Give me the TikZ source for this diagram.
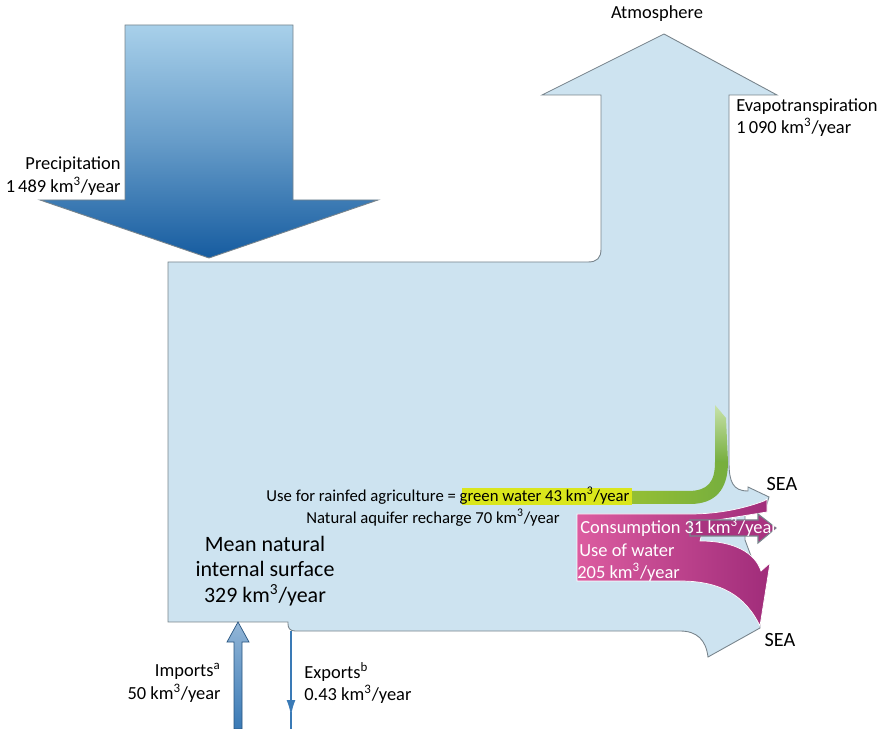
\documentclass[tikz,border=0pt]{standalone}
\usepackage{fontspec}
\setmainfont{Carlito}
\usetikzlibrary{arrows.meta}
\definecolor{bodyblue}{RGB}{205,227,240}
\definecolor{edgegrey}{RGB}{120,132,140}
\definecolor{rainlight}{RGB}{168,208,234}
\definecolor{raindark}{RGB}{22,92,160}
\definecolor{pinklight}{RGB}{220,92,160}
\definecolor{pinkdark}{RGB}{160,44,122}
\definecolor{leafgreen}{RGB}{118,174,62}
\definecolor{leaflight}{RGB}{200,226,170}
\definecolor{marker}{RGB}{218,230,28}
\definecolor{steel}{RGB}{58,122,182}
\newcommand{\kmyr}{km\textsuperscript{3}/year}
\begin{document}
\begin{tikzpicture}[x=0.02cm,y=-0.02cm,
    body/.style={fill=bodyblue, draw=edgegrey, line width=0.5pt},
    lbl/.style={font=\fontsize{10.5}{13}\selectfont, inner sep=0pt},
    sml/.style={font=\fontsize{9.5}{12}\selectfont, inner sep=0pt}]
    \useasboundingbox (0,0) rectangle (883,729);

    % main body with evapotranspiration and sea outlets
    \filldraw[body] (168,262) -- (588,262) .. controls (597,262) and (601,258) .. (601,249)
        -- (601,95) -- (542,95) -- (664,34) -- (777,95) -- (729,95) -- (729,462)
        .. controls (729,482) and (733,491) .. (748,491) -- (748,487) -- (769,497)
        -- (766,507) -- (745,512) -- (745,540) -- (760,580) -- (760,628) -- (708,657)
        .. controls (706,640) and (697,631) .. (680,631) -- (295,631)
        .. controls (290,631) and (288,628) .. (288,624) -- (288,622) -- (168,622) -- cycle;

    % precipitation
    \shade[top color=rainlight, bottom color=raindark, middle color=rainlight!55!raindark, draw=edgegrey, line width=0.5pt]
        (125,25) -- (293,25) -- (293,200) -- (378,200) -- (209,258) -- (40,200) -- (125,200) -- cycle;

    % green water
    \fill[marker] (462,488) rectangle (632,505);
    \shade[left color=leafgreen!70!marker, right color=leafgreen]
        (632,491) -- (688,491) .. controls (708,491) and (715,482) .. (715,462)
        -- (728,462) .. controls (728,490) and (715,504) .. (690,504) -- (632,504) -- cycle;
    \shade[top color=leaflight, bottom color=leafgreen] (715,405) -- (726,418) -- (728,462) -- (715,462) -- cycle;

    % use of water
    \shade[left color=pinklight, right color=pinkdark, draw=white, line width=0.4pt]
        (577,514) -- (690,514) .. controls (720,514) and (745,508) .. (764,501) -- (767,499)
        -- (767,512) -- (705,522) -- (700,541) .. controls (735,541) and (755,553) .. (761,571)
        -- (770,563) -- (760,626) .. controls (745,595) and (720,581) .. (680,581)
        -- (577,581) -- cycle;
    \filldraw[fill=pinkdark!85!pinklight, draw=edgegrey, line width=0.6pt]
        (690,520) -- (758,520) -- (758,514) -- (776,528) -- (758,543) -- (758,536) -- (690,536) -- cycle;

    % imports and exports
    \shade[top color=steel!55!white, bottom color=steel, draw=steel!70!black, line width=0.4pt]
        (234,729) -- (234,642) -- (227,642) -- (238,622) -- (249,642) -- (242,642) -- (242,729) -- cycle;
    \draw[steel, line width=1.2pt, -{Latex[length=9pt,width=5pt]}] (291,631) -- (291,716);
    \draw[steel, line width=1.2pt] (291,712) -- (291,729);

    \node[lbl] (atm) at (657,14) {Atmosphere};
    \node[lbl, anchor=north west, align=left] (evap) at (736,98) {Evapotranspiration\\1\,090 \kmyr};
    \node[lbl, anchor=east, align=right] (precip) at (121,176) {Precipitation\\1\,489 \kmyr};
    \node[sml] (rainfed) at (448,496) {Use for rainfed agriculture = green water 43 \kmyr};
    \node[sml] (recharge) at (433,518) {Natural aquifer recharge 70 \kmyr};
    \node[font=\fontsize{12.5}{14.5}\selectfont, align=center, inner sep=0pt] (mean) at (265,571)
        {Mean natural\\internal surface\\329 \kmyr};
    \node[lbl, white, anchor=west] (cons) at (580,527) {Consumption 31 \kmyr};
    \node[lbl, white, anchor=west] (use) at (579,550) {Use of water};
    \node[lbl, white, anchor=west] (usev) at (577,572) {205 \kmyr};
    \node[font=\fontsize{11.5}{13}\selectfont, inner sep=0pt] (seaup) at (782,484) {SEA};
    \node[font=\fontsize{11.5}{13}\selectfont, inner sep=0pt] (sealow) at (780,640) {SEA};
    \node[lbl, anchor=east, align=right] (imp) at (221,683) {Imports\textsuperscript{a}\\50 \kmyr};
    \node[lbl, anchor=west, align=left] (exp) at (304,683) {Exports\textsuperscript{b}\\0.43 \kmyr};
\end{tikzpicture}
\end{document}
